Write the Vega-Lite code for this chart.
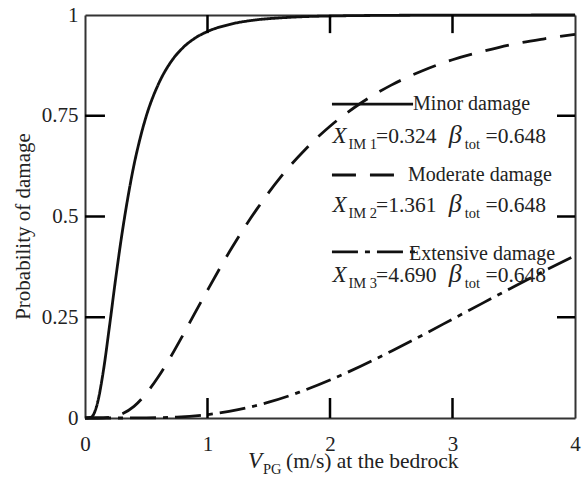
{
  "$schema": "https://vega.github.io/schema/vega-lite/v6.json",
  "width": 490,
  "height": 403,
  "autosize": {"type": "none"},
  "padding": {"left": 85, "top": 15, "right": 12, "bottom": 61},
  "background": "white",
  "config": {"view": {"stroke": null}, "font": "Liberation Serif"},
  "datasets": {
    "curves": [
      {"v": 0, "p": 0, "damage": "Minor"},
      {"v": 0.05, "p": 0.002, "damage": "Minor"},
      {"v": 0.1, "p": 0.035, "damage": "Minor"},
      {"v": 0.15, "p": 0.117, "damage": "Minor"},
      {"v": 0.2, "p": 0.228, "damage": "Minor"},
      {"v": 0.25, "p": 0.345, "damage": "Minor"},
      {"v": 0.3, "p": 0.453, "damage": "Minor"},
      {"v": 0.35, "p": 0.547, "damage": "Minor"},
      {"v": 0.4, "p": 0.628, "damage": "Minor"},
      {"v": 0.45, "p": 0.694, "damage": "Minor"},
      {"v": 0.5, "p": 0.749, "damage": "Minor"},
      {"v": 0.6, "p": 0.829, "damage": "Minor"},
      {"v": 0.7, "p": 0.883, "damage": "Minor"},
      {"v": 0.8, "p": 0.919, "damage": "Minor"},
      {"v": 0.9, "p": 0.943, "damage": "Minor"},
      {"v": 1.0, "p": 0.959, "damage": "Minor"},
      {"v": 1.2, "p": 0.978, "damage": "Minor"},
      {"v": 1.4, "p": 0.988, "damage": "Minor"},
      {"v": 1.6, "p": 0.993, "damage": "Minor"},
      {"v": 1.8, "p": 0.996, "damage": "Minor"},
      {"v": 2.0, "p": 0.9975, "damage": "Minor"},
      {"v": 2.5, "p": 0.9992, "damage": "Minor"},
      {"v": 3.0, "p": 0.9997, "damage": "Minor"},
      {"v": 3.5, "p": 0.9999, "damage": "Minor"},
      {"v": 4.0, "p": 1.0, "damage": "Minor"},
      {"v": 0, "p": 0, "damage": "Moderate"},
      {"v": 0.1, "p": 0.0, "damage": "Moderate"},
      {"v": 0.2, "p": 0.0015, "damage": "Moderate"},
      {"v": 0.3, "p": 0.010, "damage": "Moderate"},
      {"v": 0.4, "p": 0.029, "damage": "Moderate"},
      {"v": 0.5, "p": 0.061, "damage": "Moderate"},
      {"v": 0.6, "p": 0.103, "damage": "Moderate"},
      {"v": 0.7, "p": 0.152, "damage": "Moderate"},
      {"v": 0.8, "p": 0.206, "damage": "Moderate"},
      {"v": 0.9, "p": 0.262, "damage": "Moderate"},
      {"v": 1.0, "p": 0.317, "damage": "Moderate"},
      {"v": 1.2, "p": 0.423, "damage": "Moderate"},
      {"v": 1.4, "p": 0.517, "damage": "Moderate"},
      {"v": 1.6, "p": 0.599, "damage": "Moderate"},
      {"v": 1.8, "p": 0.667, "damage": "Moderate"},
      {"v": 2.0, "p": 0.724, "damage": "Moderate"},
      {"v": 2.25, "p": 0.781, "damage": "Moderate"},
      {"v": 2.5, "p": 0.826, "damage": "Moderate"},
      {"v": 2.75, "p": 0.861, "damage": "Moderate"},
      {"v": 3.0, "p": 0.889, "damage": "Moderate"},
      {"v": 3.25, "p": 0.910, "damage": "Moderate"},
      {"v": 3.5, "p": 0.928, "damage": "Moderate"},
      {"v": 3.75, "p": 0.941, "damage": "Moderate"},
      {"v": 4.0, "p": 0.952, "damage": "Moderate"},
      {"v": 0, "p": 0, "damage": "Extensive"},
      {"v": 0.25, "p": 0.0, "damage": "Extensive"},
      {"v": 0.5, "p": 0.0003, "damage": "Extensive"},
      {"v": 0.75, "p": 0.0023, "damage": "Extensive"},
      {"v": 1.0, "p": 0.0085, "damage": "Extensive"},
      {"v": 1.25, "p": 0.0206, "damage": "Extensive"},
      {"v": 1.5, "p": 0.0393, "damage": "Extensive"},
      {"v": 1.75, "p": 0.0641, "damage": "Extensive"},
      {"v": 2.0, "p": 0.0942, "damage": "Extensive"},
      {"v": 2.25, "p": 0.1285, "damage": "Extensive"},
      {"v": 2.5, "p": 0.1658, "damage": "Extensive"},
      {"v": 2.75, "p": 0.2050, "damage": "Extensive"},
      {"v": 3.0, "p": 0.2453, "damage": "Extensive"},
      {"v": 3.25, "p": 0.2857, "damage": "Extensive"},
      {"v": 3.5, "p": 0.3257, "damage": "Extensive"},
      {"v": 3.75, "p": 0.3650, "damage": "Extensive"},
      {"v": 4.0, "p": 0.4030, "damage": "Extensive"}
    ],
    "samples": [
      {"x1": 2.016, "x2": 2.678, "y": 0.779, "damage": "Minor"},
      {"x1": 2.016, "x2": 2.588, "y": 0.603, "damage": "Moderate"},
      {"x1": 2.016, "x2": 2.694, "y": 0.412, "damage": "Extensive"}
    ],
    "plain": [
      {"t": "Minor damage", "x": 2.678, "y": 0.764},
      {"t": "Moderate damage", "x": 2.637, "y": 0.588},
      {"t": "Extensive damage", "x": 2.645, "y": 0.392}
    ],
    "values": [
      {"t": "=0.324", "x": 2.376, "y": 0.682},
      {"t": "=0.648", "x": 3.27, "y": 0.682},
      {"t": "=1.361", "x": 2.376, "y": 0.511},
      {"t": "=0.648", "x": 3.27, "y": 0.511},
      {"t": "=4.690", "x": 2.376, "y": 0.337},
      {"t": "=0.648", "x": 3.27, "y": 0.337},
      {"t": "(m/s) at the bedrock", "x": 1.641, "y": -0.124}
    ],
    "italic": [
      {"t": "X", "x": 2.02, "y": 0.682},
      {"t": "X", "x": 2.02, "y": 0.511},
      {"t": "X", "x": 2.02, "y": 0.337},
      {"t": "V", "x": 1.331, "y": -0.124}
    ],
    "greek": [
      {"t": "β", "x": 2.97, "y": 0.682},
      {"t": "β", "x": 2.97, "y": 0.511},
      {"t": "β", "x": 2.97, "y": 0.337}
    ],
    "sub": [
      {"t": "IM 1", "x": 2.15, "y": 0.682},
      {"t": "IM 2", "x": 2.15, "y": 0.511},
      {"t": "IM 3", "x": 2.15, "y": 0.337},
      {"t": "tot", "x": 3.1, "y": 0.682},
      {"t": "tot", "x": 3.1, "y": 0.511},
      {"t": "tot", "x": 3.1, "y": 0.337},
      {"t": "PG", "x": 1.453, "y": -0.124}
    ],
    "xticks": [{"t": 1}, {"t": 2}, {"t": 3}],
    "yticks": [{"t": 0.25}, {"t": 0.5}, {"t": 0.75}]
  },
  "resolve": {"axis": {"x": "independent", "y": "independent"}},
  "layer": [
    {
      "data": {"name": "curves"},
      "mark": {"type": "line", "color": "#111", "strokeWidth": 2.8, "interpolate": "monotone"},
      "encoding": {
        "x": {
          "field": "v", "type": "quantitative",
          "scale": {"domain": [0, 4], "nice": false, "zero": false},
          "axis": {
            "orient": "bottom", "values": [0, 1, 2, 3, 4], "title": null, "grid": false, "ticks": false,
            "domainColor": "#333", "domainWidth": 2,
            "labelPadding": 15, "labelFont": "Liberation Serif", "labelFontSize": 21, "labelColor": "#222",
            "labelFlush": false, "labelOverlap": false
          }
        },
        "y": {
          "field": "p", "type": "quantitative",
          "scale": {"domain": [0, 1], "nice": false, "zero": false},
          "axis": {
            "orient": "left", "values": [0, 0.25, 0.5, 0.75, 1], "labelExpr": "'' + datum.value", "grid": false, "ticks": false,
            "domainColor": "#333", "domainWidth": 2,
            "labelPadding": 7, "labelFont": "Liberation Serif", "labelFontSize": 21, "labelColor": "#222",
            "labelFlush": false, "labelOverlap": false,
            "title": "Probability of damage", "titleFont": "Liberation Serif", "titleFontSize": 21,
            "titleFontWeight": "normal", "titleColor": "#222", "titlePadding": 8, "titleY": 211
          }
        },
        "detail": {"field": "damage"},
        "strokeDash": {
          "field": "damage", "type": "nominal",
          "scale": {"domain": ["Minor", "Moderate", "Extensive"], "range": [[1, 0], [24, 14], [26, 7, 5, 7]]},
          "legend": null
        }
      }
    },
    {
      "data": {"name": "xticks"},
      "mark": {"type": "rule", "color": "black", "strokeWidth": 2.5},
      "encoding": {
        "x": {"field": "t", "type": "quantitative", "axis": null},
        "y": {"datum": 0, "type": "quantitative", "axis": null},
        "y2": {"datum": 0.0496}
      }
    },
    {
      "data": {"name": "xticks"},
      "mark": {"type": "rule", "color": "black", "strokeWidth": 2.5},
      "encoding": {
        "x": {"field": "t", "type": "quantitative", "axis": null},
        "y": {"datum": 1, "type": "quantitative", "axis": null},
        "y2": {"datum": 0.955}
      }
    },
    {
      "data": {"name": "yticks"},
      "mark": {"type": "rule", "color": "black", "strokeWidth": 2.5},
      "encoding": {
        "y": {"field": "t", "type": "quantitative", "axis": null},
        "x": {"datum": 0, "type": "quantitative", "axis": null},
        "x2": {"datum": 0.163}
      }
    },
    {
      "data": {"name": "yticks"},
      "mark": {"type": "rule", "color": "black", "strokeWidth": 2.5},
      "encoding": {
        "y": {"field": "t", "type": "quantitative", "axis": null},
        "x": {"datum": 4, "type": "quantitative", "axis": null},
        "x2": {"datum": 3.853}
      }
    },
    {
      "data": {"name": "samples"},
      "mark": {"type": "rule", "color": "#111", "strokeWidth": 2.8},
      "encoding": {
        "x": {
          "field": "x1", "type": "quantitative",
          "axis": {
            "orient": "top", "labels": false, "ticks": false, "title": null, "grid": false,
            "domainColor": "#333", "domainWidth": 2
          }
        },
        "x2": {"field": "x2"},
        "y": {
          "field": "y", "type": "quantitative",
          "axis": {
            "orient": "right", "labels": false, "ticks": false, "title": null, "grid": false,
            "domainColor": "#333", "domainWidth": 2
          }
        },
        "strokeDash": {"field": "damage", "type": "nominal", "legend": null}
      }
    },
    {
      "data": {"name": "plain"},
      "mark": {"type": "text", "font": "Liberation Serif", "fontSize": 20, "align": "left", "baseline": "alphabetic", "color": "#222"},
      "encoding": {
        "x": {"field": "x", "type": "quantitative", "axis": null},
        "y": {"field": "y", "type": "quantitative", "axis": null},
        "text": {"field": "t"}
      }
    },
    {
      "data": {"name": "values"},
      "mark": {"type": "text", "font": "Liberation Serif", "fontSize": 21.5, "align": "left", "baseline": "alphabetic", "color": "#222"},
      "encoding": {
        "x": {"field": "x", "type": "quantitative", "axis": null},
        "y": {"field": "y", "type": "quantitative", "axis": null},
        "text": {"field": "t"}
      }
    },
    {
      "data": {"name": "italic"},
      "mark": {"type": "text", "font": "Liberation Serif", "fontSize": 23, "fontStyle": "italic", "align": "left", "baseline": "alphabetic", "color": "#222"},
      "encoding": {
        "x": {"field": "x", "type": "quantitative", "axis": null},
        "y": {"field": "y", "type": "quantitative", "axis": null},
        "text": {"field": "t"}
      }
    },
    {
      "data": {"name": "greek"},
      "mark": {"type": "text", "font": "Liberation Serif", "fontSize": 26, "fontStyle": "italic", "align": "left", "baseline": "alphabetic", "color": "#222"},
      "encoding": {
        "x": {"field": "x", "type": "quantitative", "axis": null},
        "y": {"field": "y", "type": "quantitative", "axis": null},
        "text": {"field": "t"}
      }
    },
    {
      "data": {"name": "sub"},
      "mark": {"type": "text", "font": "Liberation Serif", "fontSize": 14.5, "align": "left", "baseline": "alphabetic", "dy": 6, "color": "#222"},
      "encoding": {
        "x": {"field": "x", "type": "quantitative", "axis": null},
        "y": {"field": "y", "type": "quantitative", "axis": null},
        "text": {"field": "t"}
      }
    }
  ]
}
